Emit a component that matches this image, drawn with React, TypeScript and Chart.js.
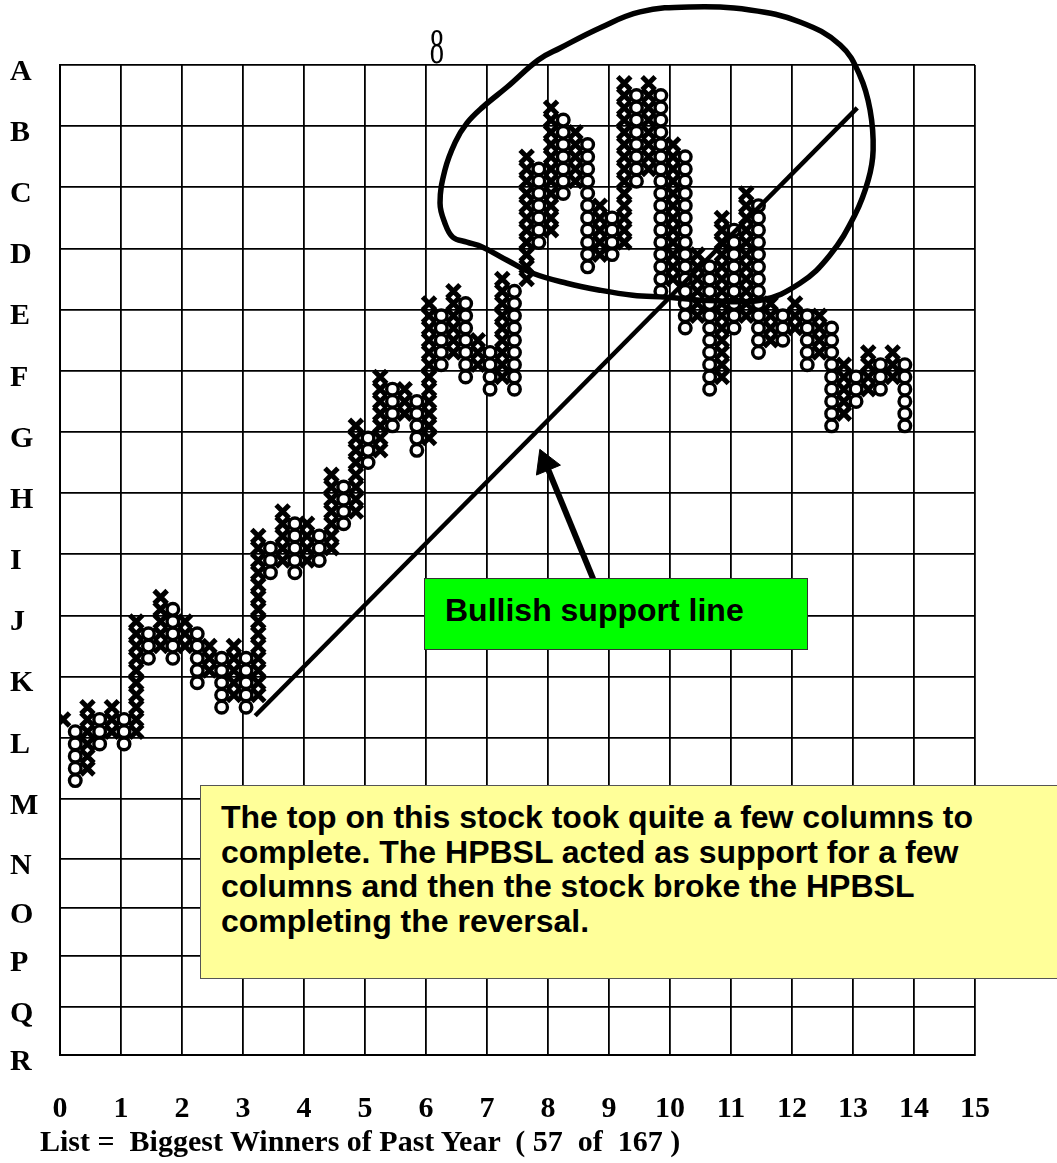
import React, { useEffect, useRef } from 'react';
import { Chart, registerables } from 'chart.js';

Chart.register(...registerables);

// ---- Point & figure columns (box index; X = rising column, O = falling column) ----
const columnTypes = [
  'X','O','X','O','X','O','X','O','X','O',
  'X','O','X','O','X','O','X','O','X','O',
  'X','O','X','O','X','O','X','O','X','O',
  'X','O','X','O','X','O','X','O','X','O',
  'X','O','X','O','X','O','X','O','X','O',
  'X','O','X','O','X','O','X','O','X','O',
  'X','O','X','O','X','O','X','O','X','O',
];
const columnLows = [
  26,21,22,24,25,24,25,31,32,31,
  32,29,30,27,28,27,28,38,39,38,
  39,39,40,42,43,47,48,50,51,48,
  49,55,56,54,55,53,54,53,62,65,
  66,69,70,63,64,64,65,70,71,61,
  62,58,59,53,54,58,59,56,57,57,
  58,55,56,50,51,52,53,53,54,50,
];
const columnHighs = [
  26,25,27,26,27,26,34,33,36,35,
  34,33,32,31,32,31,41,40,43,42,
  42,41,46,45,50,49,54,53,53,52,
  60,59,61,60,57,56,62,61,72,71,
  76,75,74,73,68,67,78,77,78,77,
  73,72,64,63,67,66,69,68,60,59,
  60,59,59,58,55,54,56,55,56,55,
];

// ---- Axes ----
const xTickValues = [0,1,2,3,4,5,6,7,8,9,10,11,12,13,14,15];
const yGridLabels = ['A','B','C','D','E','F','G','H','I','J','K','L','M','N','O','P','Q','R'];
const yGridValues = [80,75,70,65,60,55,50,45,40,35,30,25,20,15.1,11.1,7.17,3.0,-0.93];

// ---- Annotations (data units) ----
const supportLine = [ { x: 3.2, y: 26.8 }, { x: 13.07, y: 76.5 } ];
const arrowPath = [ { x: 8.74, y: 38.0 }, { x: 7.96, y: 47.45 } ];
const circlePath = [
  { x: 10.49, y: 60.77 }, { x: 11.48, y: 60.77 }, { x: 12.13, y: 62.16 }, { x: 12.62, y: 64.45 },
  { x: 13.03, y: 67.73 }, { x: 13.25, y: 70.59 }, { x: 13.33, y: 73.04 }, { x: 13.28, y: 76.32 },
  { x: 13.11, y: 79.18 }, { x: 12.79, y: 81.64 }, { x: 12.13, y: 83.52 }, { x: 11.31, y: 84.5 },
  { x: 10.33, y: 84.75 }, { x: 9.51, y: 84.34 }, { x: 8.85, y: 83.03 }, { x: 8.2, y: 81.39 },
  { x: 7.84, y: 80.41 }, { x: 7.33, y: 78.2 }, { x: 6.93, y: 76.56 }, { x: 6.67, y: 75.25 },
  { x: 6.48, y: 73.7 }, { x: 6.31, y: 71.41 }, { x: 6.23, y: 68.71 }, { x: 6.31, y: 67.07 },
  { x: 6.44, y: 65.92 }, { x: 6.67, y: 65.52 }, { x: 6.93, y: 65.11 }, { x: 7.33, y: 64.04 },
  { x: 7.75, y: 62.98 }, { x: 8.31, y: 62.16 }, { x: 8.85, y: 61.59 }, { x: 9.39, y: 61.18 },
  { x: 9.95, y: 61.01 }, { x: 10.49, y: 60.77 },
];

const COLUMNS_PER_UNIT = 5;
const COLUMN_OFFSET = 0.05;

const serif = '"Liberation Serif", "Times New Roman", serif';
const sans = '"Liberation Sans", Arial, sans-serif';

function buildPoints() {
  const xs: { x: number; y: number }[] = [];
  const os: { x: number; y: number }[] = [];
  columnTypes.forEach((t, k) => {
    for (let b = columnLows[k]; b <= columnHighs[k]; b++) {
      const p = { x: COLUMN_OFFSET + k / COLUMNS_PER_UNIT, y: b + 0.5 };
      if (t === 'X') xs.push(p); else os.push(p);
    }
  });
  return { xs, os };
}

export default function App() {
  const ref = useRef<HTMLCanvasElement | null>(null);

  useEffect(() => {
    if (!ref.current) return;
    const { xs, os } = buildPoints();
    const chart = new Chart(ref.current, {
      type: 'scatter',
      data: {
        datasets: [
          {
            label: 'circle', type: 'line', data: circlePath, borderColor: '#000', borderWidth: 5.5,
            pointRadius: 0, tension: 0.4, clip: false as any, fill: false, order: 0,
          } as any,
          {
            label: 'support', type: 'line', data: supportLine, borderColor: '#000', borderWidth: 4.5,
            pointRadius: 0, tension: 0, fill: false, order: 1,
          } as any,
          {
            label: 'arrow', type: 'line', data: arrowPath, borderColor: '#000', borderWidth: 6,
            backgroundColor: '#000', pointBackgroundColor: '#000', pointBorderColor: '#000',
            pointStyle: 'triangle', pointRadius: [0, 15], pointRotation: [0, -22.5], pointBorderWidth: 1,
            tension: 0, fill: false, order: 2,
          } as any,
          {
            label: 'O', data: os, pointStyle: 'circle', pointRadius: 5.8, pointBorderWidth: 3.4,
            pointBorderColor: '#000', pointBackgroundColor: '#fff', showLine: false, order: 3,
          } as any,
          {
            label: 'X', data: xs, pointStyle: 'crossRot', pointRadius: 9.2, pointBorderWidth: 5,
            pointBorderColor: '#000', pointBackgroundColor: '#000', showLine: false, order: 4,
          } as any,
        ],
      },
      options: {
        animation: false,
        responsive: false,
        maintainAspectRatio: false,
        events: [],
        layout: { padding: { left: 10, top: 65, right: 82, bottom: 0 } },
        plugins: { legend: { display: false }, tooltip: { enabled: false }, title: { display: false } },
        scales: {
          x: {
            type: 'linear', min: 0, max: 15,
            afterBuildTicks: (s: any) => { s.ticks = xTickValues.map((v) => ({ value: v })); },
            afterFit: (s: any) => { s.height = 108; },
            grid: { color: '#000', lineWidth: 1.8, drawTicks: false },
            border: { color: '#000', width: 2 },
            ticks: {
              color: '#000', padding: 36, maxRotation: 0, autoSkip: false,
              font: { family: serif, size: 30, weight: 'bold' },
            },
          },
          y: {
            type: 'linear', min: -0.93, max: 80,
            afterBuildTicks: (s: any) => { s.ticks = yGridValues.map((v) => ({ value: v })); },
            afterFit: (s: any) => { s.width = 50; },
            grid: { color: '#000', lineWidth: 1.8, drawTicks: false },
            border: { color: '#000', width: 2 },
            ticks: {
              color: '#000', padding: 0, autoSkip: false, crossAlign: 'far', labelOffset: 7,
              font: { family: serif, size: 30, weight: 'bold' },
              callback: (v: any) => {
                const i = yGridValues.findIndex((g) => Math.abs(g - Number(v)) < 1e-6);
                return i >= 0 ? yGridLabels[i] : '';
              },
            },
          },
        },
      } as any,
    });
    return () => chart.destroy();
  }, []);

  const yellowLines = [
    'The top on this stock took quite a few columns to',
    'complete. The HPBSL acted as support for a few',
    'columns and then the stock broke the HPBSL',
    'completing the reversal.',
  ];

  return (
    <div style={{ position: 'absolute', left: 0, top: 0, width: 1057, height: 1163, overflow: 'hidden', background: '#fff' }}>
      <canvas ref={ref} width={1057} height={1163} style={{ position: 'absolute', left: 0, top: 0, width: 1057, height: 1163 }} />
      <div style={{
        position: 'absolute', left: 426, top: 20, width: 22, height: 44, fontFamily: serif, fontSize: 30,
        lineHeight: '30px', color: '#000', textAlign: 'center', transform: 'scale(0.95, 1.7)', transformOrigin: '50% 0',
      }}>8</div>
      <div style={{
        position: 'absolute', left: 424, top: 578, width: 382, height: 70, background: '#00FF00',
        border: '1px solid #333', boxSizing: 'content-box',
      }}>
        <div style={{
          position: 'absolute', left: 20, top: 14, fontFamily: sans, fontWeight: 'bold', fontSize: 32,
          lineHeight: '34.5px', whiteSpace: 'nowrap', color: '#000',
        }}>Bullish support line</div>
      </div>
      <div style={{
        position: 'absolute', left: 200, top: 785, width: 870, height: 192, background: '#FFFF99',
        border: '1px solid #555',
      }}>
        <div style={{
          position: 'absolute', left: 20, top: 14, fontFamily: sans, fontWeight: 'bold', fontSize: 32,
          lineHeight: '34.5px', whiteSpace: 'nowrap', color: '#000',
        }}>
          {yellowLines.map((l, i) => <div key={i}>{l}</div>)}
        </div>
      </div>
      <div style={{
        position: 'absolute', left: 40, top: 1123, fontFamily: serif, fontWeight: 'bold', fontSize: 30,
        lineHeight: '36px', whiteSpace: 'pre', color: '#000',
      }}>{'List =  Biggest Winners of Past Year  ( 57  of  167 )'}</div>
    </div>
  );
}
